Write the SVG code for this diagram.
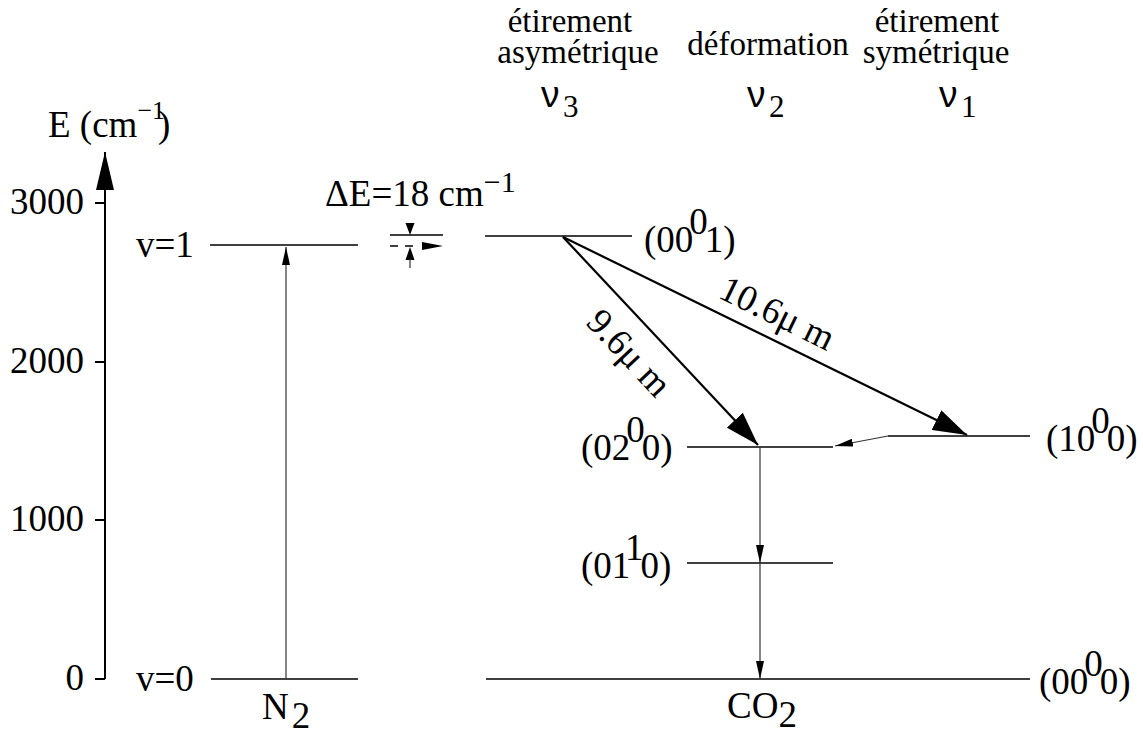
<svg xmlns="http://www.w3.org/2000/svg" width="1143" height="733" viewBox="0 0 1143 733">
<defs>
<style>
text{font-family:"Liberation Serif","Times New Roman",serif;font-size:37px;fill:#000}
.top{font-size:33px;text-anchor:middle}
.nu{font-family:"Liberation Sans",Arial,sans-serif;font-size:37px}
.sub{font-family:"Liberation Serif","Times New Roman",serif;font-size:31px}
.lvl{stroke:#000;stroke-width:1.5;fill:none}
.thin{stroke:#333;stroke-width:1.2;fill:none}
.bold{stroke:#000;stroke-width:2.2;fill:none}
.ax{stroke:#000;stroke-width:2;fill:none}
</style>
<marker id="big" viewBox="0 0 34 22" refX="34" refY="11" markerWidth="34" markerHeight="22" markerUnits="userSpaceOnUse" orient="auto"><path d="M0,0 L34,11 L0,22 z" fill="#000"/></marker>
<marker id="small" viewBox="0 0 18 8" refX="18" refY="4" markerWidth="18" markerHeight="8" markerUnits="userSpaceOnUse" orient="auto"><path d="M0,0 L18,4 L0,8 z" fill="#000"/></marker>
<marker id="axis" viewBox="0 0 38 18" refX="38" refY="9" markerWidth="38" markerHeight="18" markerUnits="userSpaceOnUse" orient="auto"><path d="M0,0 L38,9 L0,18 z" fill="#000"/></marker>
</defs>

<g id="axis-energy">
<line class="ax" x1="105" y1="679" x2="105" y2="152" marker-end="url(#axis)"/>
<path class="ax" d="M95,203 H105 M95,362 H105 M95,520 H105 M95,679 H105"/>
<text x="84" y="214" text-anchor="end">3000</text>
<text x="84" y="373" text-anchor="end">2000</text>
<text x="84" y="531" text-anchor="end">1000</text>
<text x="84" y="690" text-anchor="end">0</text>
<text x="48" y="137">E (cm<tspan font-size="26" dy="-18">−1</tspan><tspan x="158" dy="18">)</tspan></text>
</g>

<g id="headings">
<text class="top" x="570" y="32">étirement</text>
<text class="top" x="578" y="63">asymétrique</text>
<text class="top" x="768" y="55">déformation</text>
<text class="top" x="937" y="32">étirement</text>
<text class="top" x="936" y="63">symétrique</text>
<text class="nu" x="541" y="107">ν</text><text class="sub" x="563" y="117">3</text>
<text class="nu" x="747" y="107">ν</text><text class="sub" x="769" y="117">2</text>
<text class="nu" x="939" y="107">ν</text><text class="sub" x="961" y="117">1</text>
</g>

<g id="n2-v1">
<line class="lvl" x1="210" y1="245" x2="358" y2="245"/>
<text x="136" y="257">v=1</text>
</g>
<g id="n2-v0">
<line class="lvl" x1="211" y1="679" x2="358" y2="679"/>
<text x="136" y="691">v=0</text>
</g>
<g id="label-n2">
<text x="262" y="719">N<tspan dx="3" dy="9">2</tspan></text>
</g>

<g id="delta-e">
<text x="325" y="206">ΔE=18 cm<tspan font-size="30" dy="-14">−1</tspan></text>
<line class="lvl" x1="390" y1="235" x2="443" y2="235"/>
<line class="lvl" x1="390" y1="246" x2="417" y2="246" stroke-dasharray="8,7"/>
<path d="M422,242 L443,246 L422,250 z" fill="#000"/>
<path d="M405.5,223 L414.5,223 L410,235 z" fill="#000"/>
<path d="M405.5,260 L414.5,260 L410,247 z" fill="#000"/>
<line class="thin" x1="410" y1="259" x2="410" y2="268"/>
</g>

<g id="co2-001">
<line class="lvl" x1="485" y1="236" x2="632" y2="236"/>
<text x="644" y="252">(00<tspan dx="-4" dy="-18">0</tspan><tspan dx="-3" dy="18">1)</tspan></text>
</g>
<g id="co2-100">
<line class="lvl" x1="888" y1="436" x2="1030" y2="436"/>
<text x="1046" y="451">(10<tspan dx="-4" dy="-18">0</tspan><tspan dx="-3" dy="18">0)</tspan></text>
</g>
<g id="co2-020">
<line class="lvl" x1="687" y1="447" x2="833" y2="447" stroke="#444"/>
<text x="581" y="460">(02<tspan dx="-4" dy="-18">0</tspan><tspan dx="-3" dy="18">0)</tspan></text>
</g>
<g id="co2-010">
<line class="lvl" x1="687" y1="563" x2="833" y2="563" stroke="#444"/>
<text x="581" y="578">(01<tspan dx="-4" dy="-18">1</tspan><tspan dx="-3" dy="18">0)</tspan></text>
</g>
<g id="co2-000">
<line class="lvl" x1="486" y1="679" x2="1030" y2="679"/>
<text x="1039" y="694">(00<tspan dx="-4" dy="-18">0</tspan><tspan dx="-3" dy="18">0)</tspan></text>
</g>
<g id="label-co2">
<text x="727" y="718">CO<tspan dy="9">2</tspan></text>
</g>

<g id="connectors">
<line class="thin" x1="286" y1="679" x2="286" y2="247" marker-end="url(#small)"/>
<line class="bold" x1="563" y1="237" x2="758" y2="445" marker-end="url(#big)"/>
<line class="bold" x1="563" y1="237" x2="967" y2="435" marker-end="url(#big)"/>
<path class="thin" d="M888,436 L835,446" marker-end="url(#small)"/>
<line class="thin" x1="760" y1="447" x2="760" y2="563" marker-end="url(#small)"/>
<line class="thin" x1="760" y1="563" x2="760" y2="679" marker-end="url(#small)"/>
<text transform="translate(627,355) rotate(46.8)" x="0" y="9" text-anchor="middle">9.6μ m</text>
<text transform="translate(776,316) rotate(26.1)" x="0" y="9" text-anchor="middle">10.6μ m</text>
</g>
</svg>
